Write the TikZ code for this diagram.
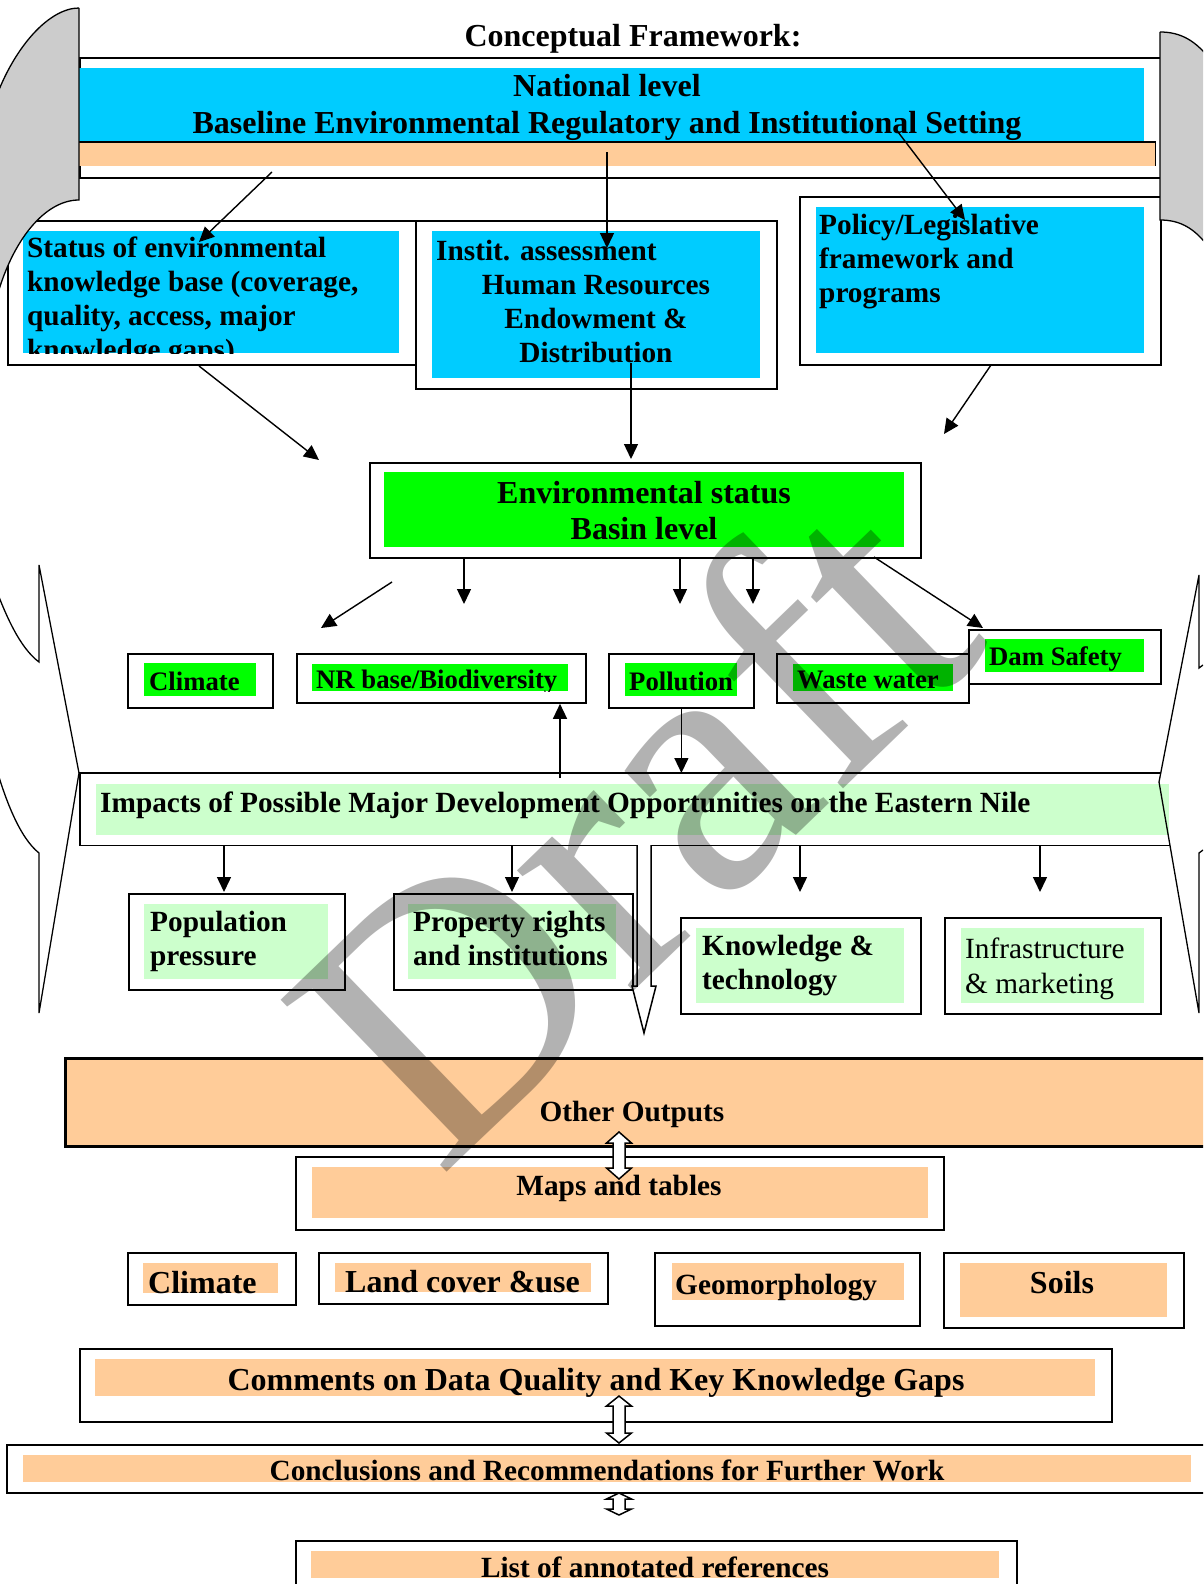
\documentclass[tikz,border=0pt]{standalone}
\usepackage{fontspec}
\setmainfont{Liberation Serif}
\usetikzlibrary{arrows.meta}

\definecolor{skyfill}{HTML}{00CCFF}
\definecolor{peach}{HTML}{FFCC99}
\definecolor{limefill}{HTML}{00FF00}
\definecolor{mint}{HTML}{CCFFCC}
\definecolor{shade}{HTML}{CCCCCC}

\tikzset{
  frame/.style={draw, line width=1.8pt, fill=white, inner sep=0pt, anchor=north west},
  patch/.style={fill=#1, inner sep=0pt, anchor=north west},
  sz/.style 2 args={minimum width=#1pt, minimum height=#2pt},
  txt/.style={inner sep=0pt, font=\bfseries\fontsize{29.3}{34}\selectfont, align=left},
  smalltxt/.style={inner sep=0pt, font=\bfseries\fontsize{26.7}{30}\selectfont},
  bigtxt/.style={inner sep=0pt, font=\bfseries\fontsize{32}{36}\selectfont, align=center},
  arr/.style={line width=1.4pt, -{Triangle[length=15pt,width=14pt]}},
  hollow/.style={draw, line width=1.5pt, fill=white, line join=miter},
  edge/.style={line width=1.6pt},
}

\begin{document}
\begin{tikzpicture}[x=1pt,y=-1pt]
  \useasboundingbox (0,0) rectangle (1203,1584);
  \clip (0,0) rectangle (1203,1584);

  \node[bigtxt, anchor=base] (title) at (633,47) {Conceptual Framework:};

  % national level
  \node[frame, sz={1081}{120}] (natfr) at (79,57) {};
  \node[patch=skyfill, sz={1065}{74}] (natbg) at (79,68) {};
  \node[patch=peach, sz={1076}{24}] (natbar) at (79,142) {};
  \draw[edge] (natbar.north west) -- (natbar.north east) -- (natbar.south east);
  \node[bigtxt, anchor=base] (nat) at (607,133) {National level\\Baseline Environmental Regulatory and Institutional Setting};

  % three assessments
  \node[frame, sz={408}{144}] (kbfr) at (7,220) {};
  \node[patch=skyfill, sz={376}{122}] (kbbg) at (23,231) {};
  \begin{scope}
    \clip (kbbg.north west) rectangle (kbbg.south east);
    \node[txt, anchor=base west] (kb) at (27,359) {Status of environmental\\knowledge base (coverage,\\quality, access, major\\knowledge gaps)};
  \end{scope}

  \node[frame, sz={361}{168}] (infr) at (415,220) {};
  \node[patch=skyfill, sz={328}{147}] (inbg) at (432,231) {};
  \node[txt, anchor=base west] (in1) at (436,260) {Instit. assessment};
  \node[txt, align=center, anchor=base] (in2) at (596,362) {Human Resources\\Endowment \&\\Distribution};

  \node[frame, sz={361}{168}] (plfr) at (799,196) {};
  \node[patch=skyfill, sz={328}{146}] (plbg) at (816,207) {};
  \node[txt, anchor=base west] (pl) at (819,302) {Policy/Legislative\\framework and\\programs};

  % side shapes
  \draw[line width=1.3pt, fill=shade] (79,8) -- (79,200) .. controls (45,200) and (12,240) .. (-4,300)
    -- (-30,300) -- (-30,100) -- (-5,100) .. controls (15,45) and (50,8) .. (79,8);
  \draw[line width=1.3pt, fill=shade] (1160,32) -- (1160,220) .. controls (1180,220) and (1196,228) .. (1212,252)
    -- (1240,252) -- (1240,62) -- (1212,62) .. controls (1196,40) and (1180,32) .. (1160,32);

  % basin level
  \node[frame, sz={551}{95}] (esfr) at (369,462) {};
  \node[patch=limefill, sz={520}{75}] (esbg) at (384,472) {};
  \node[bigtxt, anchor=base] (es) at (644,539) {Environmental status\\Basin level};

  \node[frame, sz={145}{54}] (clfr) at (127,653) {};
  \node[patch=limefill, sz={112}{33}] (clbg) at (144,663) {};
  \node[smalltxt, anchor=base west] (cl) at (149,690) {Climate};

  \node[frame, sz={289}{49}] (nrfr) at (296,653) {};
  \node[patch=limefill, sz={256}{27}] (nrbg) at (312,664) {};
  \begin{scope}
    \clip (nrbg.north west) rectangle (nrbg.south east);
    \node[smalltxt, anchor=base west] (nr) at (316,688) {NR base/Biodiversity};
  \end{scope}

  \node[frame, sz={145}{54}] (pofr) at (608,653) {};
  \node[patch=limefill, sz={112}{33}] (pobg) at (625,663) {};
  \node[smalltxt, anchor=base west] (po) at (629,690) {Pollution};

  \node[frame, sz={192}{49}] (wwfr) at (776,653) {};
  \node[patch=limefill, sz={160}{27}] (wwbg) at (793,664) {};
  \node[smalltxt, anchor=base west] (ww) at (797,688) {Waste water};

  \node[frame, sz={192}{54}] (dsfr) at (968,629) {};
  \node[patch=limefill, sz={159}{33}] (dsbg) at (985,639) {};
  \node[smalltxt, anchor=base west] (ds) at (989,665) {Dam Safety};

  % impacts
  \node[fill=white, inner sep=0pt, anchor=north west, sz={1090}{72}] (imfr) at (80,773) {};
  \node[patch=mint, sz={1073}{51}] (imbg) at (96,784) {};
  \coordinate (imtr) at (1161,773);
  \draw[edge] (imtr) -- (imfr.north west) -- (imfr.south west) -- (imfr.south east);
  \node[txt, anchor=base west] (im) at (100,812) {Impacts of Possible Major Development Opportunities on the Eastern Nile};

  \draw[line width=1.3pt] (-8,578) .. controls (5,615) and (20,648) .. (39,662) -- (39,565) -- (79,773)
    -- (39,1013) -- (39,853) .. controls (20,838) and (5,800) .. (-6,760);
  \draw[line width=1.3pt] (1203,665) -- (1199,668) -- (1199,575) -- (1159,782) -- (1199,1013) -- (1199,853) -- (1203,850);

  \node[frame, sz={216}{96}] (ppfr) at (128,893) {};
  \node[patch=mint, sz={184}{75}] (ppbg) at (144,904) {};
  \node[txt, anchor=base west] (pp) at (150,965) {Population\\pressure};

  \node[frame, sz={239}{96}] (prfr) at (393,893) {};
  \node[patch=mint, sz={208}{75}] (prbg) at (408,904) {};
  \node[txt, anchor=base west] (pr) at (413,965) {Property rights\\and institutions};

  \node[frame, sz={240}{96}] (ktfr) at (680,917) {};
  \node[patch=mint, sz={208}{75}] (ktbg) at (696,928) {};
  \node[txt, anchor=base west] (kt) at (702,989) {Knowledge \&\\technology};

  \node[frame, sz={216}{96}] (ifr) at (944,917) {};
  \node[patch=mint, sz={183}{75}] (ibg) at (961,928) {};
  \node[txt, font=\mdseries\fontsize{29.3}{35}\selectfont, anchor=base west] (inf) at (965,993) {Infrastructure\\\& marketing};

  % outputs
  \node[frame, fill=peach, line width=2.6pt, sz={1146}{88}] (oofr) at (64,1057) {};
  \node[txt, anchor=base] (oo) at (632,1121) {Other Outputs};

  \node[frame, sz={648}{73}] (mpfr) at (295,1156) {};
  \node[patch=peach, sz={616}{51}] (mpbg) at (312,1167) {};
  \node[txt, anchor=base] (mp) at (619,1195) {Maps and tables};

  \node[frame, sz={168}{52}] (c2fr) at (127,1252) {};
  \node[patch=peach, sz={135}{30}] (c2bg) at (143,1263) {};
  \node[bigtxt, anchor=base west] (c2) at (148,1293) {Climate};

  \node[frame, sz={289}{51}] (lcfr) at (318,1252) {};
  \node[patch=peach, sz={256}{29}] (lcbg) at (335,1263) {};
  \node[bigtxt, anchor=base west] (lc) at (345,1292) {Land cover \&use};

  \node[frame, sz={265}{73}] (gmfr) at (654,1252) {};
  \node[patch=peach, sz={232}{37}] (gmbg) at (672,1263) {};
  \node[txt, anchor=base west] (gm) at (675,1294) {Geomorphology};

  \node[frame, sz={240}{75}] (sofr) at (943,1252) {};
  \node[patch=peach, sz={207}{54}] (sobg) at (960,1263) {};
  \node[bigtxt, anchor=base] (so) at (1062,1293) {Soils};

  \node[frame, sz={1032}{73}] (cmfr) at (79,1348) {};
  \node[patch=peach, sz={1000}{37}] (cmbg) at (95,1359) {};
  \node[bigtxt, anchor=base] (cm) at (596,1390) {Comments on Data Quality and Key Knowledge Gaps};

  \node[frame, sz={1209}{48}] (cofr) at (6,1444) {};
  \node[patch=peach, sz={1168}{27}] (cobg) at (23,1455) {};
  \node[txt, anchor=base] (co) at (607,1480) {Conclusions and Recommendations for Further Work};

  \node[frame, sz={721}{60}] (rffr) at (295,1540) {};
  \node[patch=peach, sz={688}{27}] (rfbg) at (311,1551) {};
  \node[txt, anchor=base] (rf) at (655,1577) {List of annotated references};

  % arrows
  \coordinate (a1) at (272,172);
  \coordinate (b1) at (199,242);
  \coordinate (a2) at (607,152);
  \coordinate (b2) at (607,248);
  \coordinate (a3) at (898,132);
  \coordinate (b3) at (965,220);
  \coordinate (a4) at (199,366);
  \coordinate (b4) at (319,460);
  \coordinate (a5) at (631,363);
  \coordinate (b5) at (631,459);
  \coordinate (a6) at (991,365);
  \coordinate (b6) at (944,434);
  \draw[arr] (a1) -- (b1);
  \draw[arr] (a2) -- (b2);
  \draw[arr] (a3) -- (b3);
  \draw[arr] (a4) -- (b4);
  \draw[arr] (a5) -- (b5);
  \draw[arr] (a6) -- (b6);

  \coordinate (c1) at (392,582);
  \coordinate (d1) at (321,628);
  \coordinate (d2) at (464,604);
  \coordinate (d3) at (680,604);
  \coordinate (d4) at (753,604);
  \coordinate (c5) at (874,557);
  \coordinate (d5) at (983,628);
  \draw[arr] (c1) -- (d1);
  \draw[arr] (esfr.south -| d2) -- (d2);
  \draw[arr] (esfr.south -| d3) -- (d3);
  \draw[arr] (esfr.south -| d4) -- (d4);
  \draw[arr] (c5) -- (d5);

  \draw[arr] (pofr.south) -- (imfr.north -| pofr.south);
  \coordinate (u1) at (560,778);
  \draw[arr] (u1) -- (nrfr.south -| u1);

  \coordinate (e1) at (224,892);
  \coordinate (e2) at (512,892);
  \coordinate (e3) at (800,892);
  \coordinate (e4) at (1040,892);
  \draw[arr] (imfr.south -| e1) -- (e1);
  \draw[arr] (imfr.south -| e2) -- (e2);
  \draw[arr] (imfr.south -| e3) -- (e3);
  \draw[arr] (imfr.south -| e4) -- (e4);

  \coordinate (bk) at (644,845);
  \fill[white] (bk) ++(-7,0) -- ++(0,141) -- ++(-5,0) -- ++(12,47) -- ++(12,-47) -- ++(-5,0) -- ++(0,-141) -- cycle;
  \draw[line width=1.5pt, line join=miter] (bk) ++(-7,0) -- ++(0,141) -- ++(-5,0) -- ++(12,47) -- ++(12,-47) -- ++(-5,0) -- ++(0,-141);

  \coordinate (dd1) at (619,1132);
  \coordinate (dd2) at (619,1396);
  \coordinate (dd3) at (619,1493);
  \draw[hollow] (dd1) -- ++(12.5,11) -- ++(-6.5,0) -- ++(0,25) -- ++(6.5,0) -- ++(-12.5,11) -- ++(-12.5,-11) -- ++(6.5,0) -- ++(0,-25) -- ++(-6.5,0) -- cycle;
  \draw[hollow] (dd2) -- ++(12.5,10) -- ++(-6.5,0) -- ++(0,27) -- ++(6.5,0) -- ++(-12.5,10) -- ++(-12.5,-10) -- ++(6.5,0) -- ++(0,-27) -- ++(-6.5,0) -- cycle;
  \draw[hollow] (dd3) -- ++(12.5,6) -- ++(-6.5,0) -- ++(0,10) -- ++(6.5,0) -- ++(-12.5,6) -- ++(-12.5,-6) -- ++(6.5,0) -- ++(0,-10) -- ++(-6.5,0) -- cycle;

  % watermark
  \node[anchor=base west, rotate=44, inner sep=0pt, text opacity=0.3, font=\fontsize{365}{365}\selectfont] (wm) at (439,1180) {Draft};
\end{tikzpicture}
\end{document}
